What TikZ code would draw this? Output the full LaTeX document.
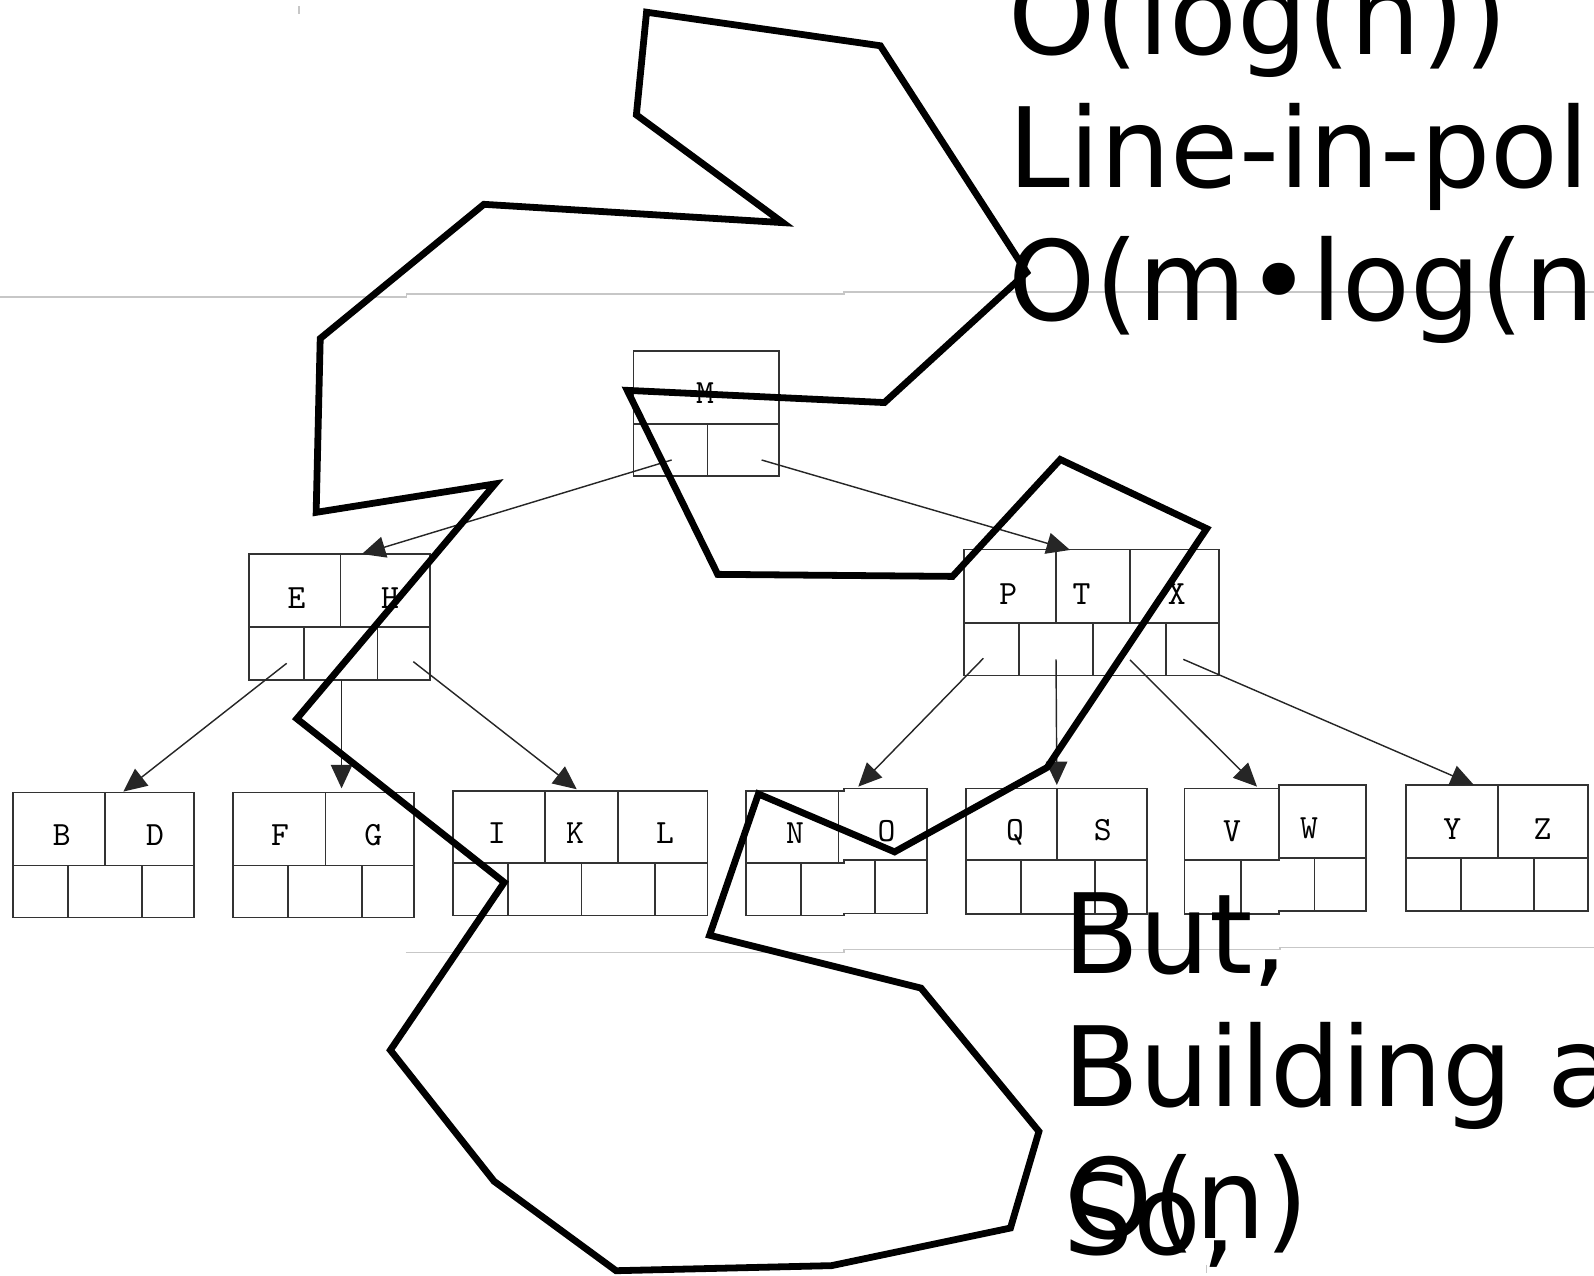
\documentclass[tikz,border=0pt]{standalone}
\usepackage{fontspec}
\setmainfont{DejaVu Sans}
\usetikzlibrary{arrows.meta}
\begin{document}
\begin{tikzpicture}[x=0.01cm,y=-0.01cm,
  cell/.style={draw=black!80,line width=0.45pt},
  ptr/.style={draw=black!85,line width=0.4pt,-{Triangle[length=0.23cm,width=0.21cm]}},
  key/.style={font=\ttfamily\fontsize{9.5}{11}\selectfont,anchor=base,inner sep=0pt},
  big/.style={font=\fontsize{31}{37}\selectfont,anchor=base west,inner sep=0pt},
  rulegray/.style={draw=black!22,line width=0.45pt},
  scrawl/.style={draw=black,line width=1.9pt,line join=miter}]
\useasboundingbox (0,0) rectangle (1568,1255);
\clip (0,0) rectangle (1568,1255);

% faint scan rules
\draw[rulegray] (0,292) -- (400,292) -- (400,289.5) -- (830,289.5) -- (830,287.5) -- (1568,287.5);
\draw[rulegray] (399,937) -- (830,937) -- (830,934) -- (1259,934) -- (1259,932) -- (1568,932);
\draw[rulegray] (294,6) -- (294,14);
\draw[rulegray] (1187,1244) -- (1187,1252);

% root M
\draw[cell] (623,345) rectangle (766,468);
\draw[cell] (623,417) -- (766,417) (696,417) -- (696,468);
\node[key] (kM) at (693.5,397.4) {M};

% E H
\draw[cell] (245,545) rectangle (423,669);
\draw[cell] (245,616.5) -- (423,616.5) (335,545) -- (335,616.5)
  (299,616.5) -- (299,669) (371.5,616.5) -- (371.5,669);
\node[key] (kE) at (291.8,598.4) {E};
\node[key] (kH) at (383.6,598.4) {H};

% P T X
\draw[cell] (948,540.5) rectangle (1199,664.5);
\draw[cell] (948,613) -- (1199,613) (1039,540.5) -- (1039,613) (1111.5,540.5) -- (1111.5,613)
  (1002.5,613) -- (1002.5,664.5) (1075,613) -- (1075,664.5) (1147,613) -- (1147,664.5);
\node[key] (kP) at (991.9,594.2) {P};
\node[key] (kT) at (1064,594.2) {T};
\node[key] (kX) at (1157.5,594.2) {X};

% B D
\draw[cell] (12.5,779.5) rectangle (191,902.5);
\draw[cell] (12.5,851.5) -- (191,851.5) (103.5,779.5) -- (103.5,851.5)
  (67,851.5) -- (67,902.5) (139.5,851.5) -- (139.5,902.5);
\node[key] (kB) at (60.7,832.2) {B};
\node[key] (kD) at (152.5,832.2) {D};

% F G
\draw[cell] (229,779.5) rectangle (407.5,902.5);
\draw[cell] (229,851.5) -- (407.5,851.5) (320,779.5) -- (320,851.5)
  (283.5,851.5) -- (283.5,902.5) (356,851.5) -- (356,902.5);
\node[key] (kF) at (275.4,832.2) {F};
\node[key] (kG) at (367.2,832.2) {G};

% I K L
\draw[cell] (445.5,778) rectangle (696,900.5);
\draw[cell] (445.5,849) -- (696,849) (536,778) -- (536,849) (608,778) -- (608,849)
  (500,849) -- (500,900.5) (572,849) -- (572,900.5) (644.5,849) -- (644.5,900.5);
\node[key] (kI) at (488.6,829.6) {I};
\node[key] (kK) at (565.6,829.6) {K};
\node[key] (kL) at (654.1,829.6) {L};

% N O
\draw[cell] (734,778) -- (830,778) -- (830,775.5) -- (912,775.5) -- (912,898.5) -- (830,898.5) -- (830,900.5) -- (734,900.5) -- cycle;
\draw[cell] (734,849) -- (830,849) -- (830,846) -- (912,846)
  (825,778) -- (825,849) (788,849) -- (788,900.5) (860.7,846) -- (860.7,898.5);
\node[key] (kN) at (782,829.6) {N};
\node[key] (kO) at (872.2,828) {O};

% Q S
\draw[cell] (950,775.5) rectangle (1128.5,899);
\draw[cell] (950,846) -- (1128.5,846) (1040,775.5) -- (1040,846)
  (1004.5,846) -- (1004.5,899) (1077,846) -- (1077,899);
\node[key] (kQ) at (998.4,827) {Q};
\node[key] (kS) at (1084.7,827) {S};

% V W
\draw[cell] (1165,775.5) -- (1258,775.5) -- (1258,772) -- (1344,772) -- (1344,896) -- (1258,896) -- (1258,899) -- (1165,899) -- cycle;
\draw[cell] (1165,846) -- (1258,846) -- (1258,844) -- (1344,844)
  (1258,775.5) -- (1258,846) (1221,846) -- (1221,899) (1293,844) -- (1293,896);
\node[key] (kV) at (1211.9,828) {V};
\node[key] (kW) at (1287.6,824.7) {W};

% Y Z
\draw[cell] (1383,772) rectangle (1562,896);
\draw[cell] (1383,844) -- (1562,844) (1473.5,772) -- (1473.5,844)
  (1437,844) -- (1437,896) (1509,844) -- (1509,896);
\node[key] (kY) at (1428.5,825.6) {Y};
\node[key] (kZ) at (1517.5,825.6) {Z};

% pointer ends
\coordinate (mL) at (660.7,452.5);
\coordinate (mR) at (749.2,452.5);
\coordinate (ehT) at (356,545);
\coordinate (ptxT) at (1052.6,541);
\coordinate (eh1) at (282,652.5);
\coordinate (eh2) at (336,669);
\coordinate (eh3) at (406.6,650.9);
\coordinate (bdT) at (121.3,778.7);
\coordinate (fgT) at (336,775.5);
\coordinate (iklT) at (567.3,776.4);
\coordinate (p1) at (967.3,647.6);
\coordinate (p2) at (1038.8,648.6);
\coordinate (p3) at (1111.6,649.2);
\coordinate (p4) at (1164,648.6);
\coordinate (noT) at (844.3,773.8);
\coordinate (qsT) at (1039.6,772.2);
\coordinate (vwT) at (1236.5,773.8);
\coordinate (yzT) at (1449.9,772.2);

\draw[ptr] (mL) -- (ehT);
\draw[ptr] (mR) -- (ptxT);
\draw[ptr] (eh1) -- (bdT);
\draw[ptr] (eh2) -- (fgT);
\draw[ptr] (eh3) -- (iklT);
\draw[ptr] (p1) -- (noT);
\draw[ptr] (p2) -- (qsT);
\draw[ptr] (p3) -- (vwT);
\draw[ptr] (p4) -- (yzT);

% hand-drawn outline
\draw[scrawl] (636,12) -- (866,45) -- (1010,268) -- (870,396) -- (617,384) -- (706,565)
  -- (937,567) -- (1043,452) -- (1187,520) -- (1030,755) -- (880,838) -- (746,781)
  -- (698,920) -- (906,972) -- (1022,1113) -- (994,1208) -- (818,1245) -- (606,1250)
  -- (486,1162) -- (384,1033) -- (496,868) -- (292,707) -- (487,476) -- (311,504)
  -- (315,333) -- (476,201) -- (770,219) -- (626,113) -- cycle;

% large text
\node[big] (t1) at (991,54) {O(log(n))};
\node[big] (t2) at (991,184) {Line-in-pol};
\node[big] (t3) at (991,315) {O(m•log(n};
\node[big] (t4) at (1045,958) {But,};
\node[big] (t5) at (1045,1088) {Building a};
\node[big] (t6) at (1047,1218) {O(n)};
\node[big] (t7) at (1045,1234) {So,};
\end{tikzpicture}
\end{document}
